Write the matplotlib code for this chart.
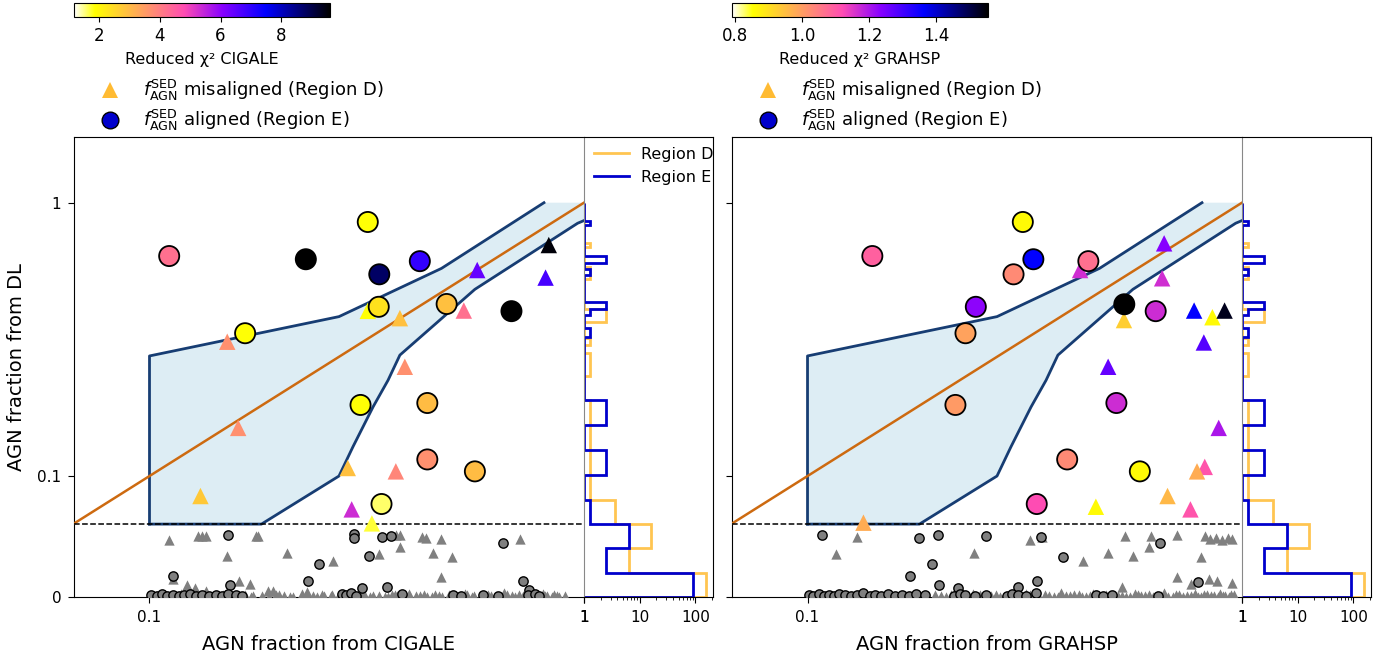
import numpy as np
import matplotlib
matplotlib.use("Agg")
import matplotlib.pyplot as plt
from matplotlib.colors import Normalize
from matplotlib.cm import ScalarMappable
from matplotlib.lines import Line2D
from matplotlib.ticker import NullLocator

# ---------------- CIGALE panel ----------------
# region E (aligned) -> circles
cig_e_x = [0.111, 0.229, 0.318, 0.338, 0.419, 0.337, 0.483, 0.681, 0.166, 0.306, 0.436, 0.436, 0.561, 0.342]
cig_e_y = [0.638, 0.621, 0.850, 0.547, 0.611, 0.416, 0.426, 0.401, 0.333, 0.182, 0.185, 0.115, 0.104, 0.079]
cig_e_chi2 = [4.2, 9.6, 1.84, 8.75, 6.95, 2.35, 2.89, 9.6, 1.84, 1.84, 2.95, 3.69, 2.95, 1.59]

# region D (misaligned) -> triangles
cig_d_x = [0.151, 0.318, 0.377, 0.529, 0.568, 0.830, 0.816, 0.387, 0.160, 0.131, 0.286, 0.369, 0.292, 0.325]
cig_d_y = [0.310, 0.402, 0.378, 0.403, 0.567, 0.700, 0.532, 0.251, 0.150, 0.0845, 0.107, 0.104, 0.0755, 0.0671]
cig_d_chi2 = [3.69, 1.84, 2.9, 4.2, 6.41, 9.5, 6.76, 3.69, 3.69, 2.77, 2.9, 3.86, 5.33, 1.7]

# sources below the DL threshold (grey)
cig_low_circ_x = [0.152, 0.295, 0.295, 0.342, 0.359, 0.650, 0.320, 0.245, 0.113, 0.232, 0.153, 0.309, 0.353, 0.725, 0.747,
                  0.101, 0.104, 0.107, 0.110, 0.113, 0.117, 0.120, 0.124, 0.128, 0.132, 0.137, 0.142, 0.147, 0.152,
                  0.158, 0.163, 0.277, 0.284, 0.291, 0.299, 0.381, 0.500, 0.522, 0.586, 0.634, 0.742, 0.772, 0.790]
cig_low_circ_y = [0.0568, 0.0574, 0.0537, 0.0552, 0.0561, 0.0492, 0.0376, 0.0303, 0.0194, 0.0151, 0.0109, 0.0085, 0.0097, 0.0146, 0.0067,
                  0.002, 0.001, 0.003, 0.001, 0.002, 0.001, 0.002, 0.003, 0.001, 0.002, 0.001, 0.002, 0.001, 0.003,
                  0.002, 0.001, 0.003, 0.002, 0.004, 0.001, 0.003, 0.002, 0.001, 0.002, 0.001, 0.002, 0.003, 0.001]
cig_low_tri_x = [0.111, 0.129, 0.132, 0.135, 0.176, 0.178, 0.370, 0.377, 0.423, 0.434, 0.470, 0.712, 0.378, 0.151, 0.207,
                 0.265, 0.338, 0.450, 0.496, 0.470, 0.113, 0.122, 0.127, 0.161, 0.170, 0.135, 0.187, 0.192, 0.230,
                 0.102, 0.107, 0.111, 0.118, 0.124, 0.131, 0.138, 0.143, 0.151, 0.158, 0.166, 0.171, 0.182, 0.195,
                 0.204, 0.211, 0.224, 0.238, 0.249, 0.261, 0.272, 0.288, 0.297, 0.312, 0.327, 0.349, 0.362, 0.371,
                 0.395, 0.411, 0.428, 0.447, 0.463, 0.489, 0.507, 0.531, 0.552, 0.578, 0.601, 0.626, 0.655, 0.683,
                 0.708, 0.742, 0.768, 0.803, 0.822, 0.851, 0.877, 0.905,
                 0.1045, 0.1095, 0.1155, 0.1205, 0.1265, 0.1335, 0.1405, 0.1475, 0.1545, 0.1625, 0.1735, 0.1885,
                 0.1985, 0.2145, 0.2305, 0.2425, 0.2525, 0.2635, 0.2755, 0.2835, 0.2935, 0.3075, 0.3215, 0.3375,
                 0.3535, 0.3665, 0.3835, 0.3985, 0.4185, 0.4345, 0.4535, 0.4725, 0.4945, 0.5125, 0.5375, 0.5595,
                 0.5845, 0.6095, 0.6375, 0.6665, 0.6955, 0.7235, 0.7545, 0.7845, 0.8135, 0.8425, 0.8685]
cig_low_tri_y = [0.0522, 0.0561, 0.0561, 0.0561, 0.0561, 0.0561, 0.0568, 0.0568, 0.0552, 0.0537, 0.0531, 0.0528, 0.0461, 0.0376, 0.0406,
                 0.0334, 0.0394, 0.0401, 0.037, 0.0182, 0.0164, 0.0112, 0.0082, 0.0148, 0.0121, 0.006, 0.006, 0.006, 0.005,
                 0.001, 0.002, 0.000, 0.003, 0.001, 0.002, 0.000, 0.001, 0.003, 0.001, 0.002, 0.000, 0.001, 0.002,
                 0.001, 0.000, 0.003, 0.001, 0.002, 0.001, 0.000, 0.002, 0.001, 0.003, 0.001, 0.000, 0.002, 0.001,
                 0.003, 0.001, 0.002, 0.000, 0.001, 0.002, 0.001, 0.003, 0.000, 0.001, 0.002, 0.001, 0.004, 0.001,
                 0.002, 0.000, 0.001, 0.003, 0.001, 0.002, 0.000, 0.001,
                 0.000, 0.001, 0.000, 0.002, 0.000, 0.001, 0.000, 0.002, 0.001, 0.000, 0.001, 0.000,
                 0.002, 0.000, 0.001, 0.000, 0.001, 0.002, 0.000, 0.001, 0.000, 0.002, 0.000, 0.001,
                 0.000, 0.002, 0.001, 0.000, 0.001, 0.000, 0.002, 0.000, 0.001, 0.000, 0.002, 0.001,
                 0.000, 0.001, 0.000, 0.002, 0.000, 0.001, 0.000, 0.002, 0.001, 0.000, 0.001]

# ---------------- GRAHSP panel ----------------
gra_e_x = [0.141, 0.313, 0.331, 0.298, 0.443, 0.244, 0.231, 0.536, 0.633, 0.219, 0.514, 0.396, 0.582, 0.337]
gra_e_y = [0.638, 0.850, 0.621, 0.547, 0.611, 0.416, 0.333, 0.425, 0.401, 0.182, 0.185, 0.115, 0.104, 0.079]
gra_e_chi2 = [1.09, 0.86, 1.363, 1.028, 1.066, 1.227, 0.993, 1.554, 1.168, 1.005, 1.168, 1.028, 0.86, 1.119]

gra_d_x = [0.424, 0.662, 0.655, 0.535, 0.776, 0.855, 0.912, 0.817, 0.492, 0.884, 0.821, 0.788, 0.674, 0.461, 0.761, 0.1345]
gra_d_y = [0.567, 0.710, 0.529, 0.372, 0.403, 0.381, 0.403, 0.308, 0.251, 0.150, 0.108, 0.104, 0.0845, 0.0772, 0.0755, 0.0675]
gra_d_chi2 = [1.165, 1.234, 1.165, 0.928, 1.363, 0.86, 1.531, 1.282, 1.266, 1.2, 1.108, 0.978, 0.959, 0.86, 1.108, 0.978]

gra_low_circ_x = [0.108, 0.181, 0.200, 0.257, 0.345, 0.647, 0.388, 0.193, 0.172, 0.201, 0.222, 0.338, 0.305, 0.793,
                  0.101, 0.103, 0.106, 0.109, 0.112, 0.115, 0.118, 0.122, 0.126, 0.130, 0.134, 0.139, 0.143, 0.148,
                  0.153, 0.159, 0.165, 0.171, 0.178, 0.186, 0.217, 0.224, 0.231, 0.243, 0.257, 0.288, 0.295, 0.305,
                  0.318, 0.336, 0.462, 0.478, 0.502, 0.640]
gra_low_circ_y = [0.0568, 0.0537, 0.0568, 0.0561, 0.0552, 0.0492, 0.037, 0.0303, 0.0194, 0.0109, 0.0082, 0.0148, 0.0097, 0.0142,
                  0.002, 0.001, 0.003, 0.001, 0.002, 0.001, 0.003, 0.002, 0.001, 0.002, 0.004, 0.001, 0.002, 0.001,
                  0.003, 0.001, 0.002, 0.001, 0.003, 0.002, 0.001, 0.003, 0.002, 0.001, 0.002, 0.001, 0.003, 0.002,
                  0.001, 0.004, 0.002, 0.001, 0.002, 0.001]
gra_low_tri_x = [0.130, 0.116, 0.242, 0.325, 0.346, 0.431, 0.492, 0.538, 0.560, 0.616, 0.611, 0.707, 0.804, 0.820,
                 0.845, 0.870, 0.900, 0.930, 0.950, 0.707, 0.762, 0.840, 0.877, 0.950, 0.530,
                 0.203, 0.214, 0.229, 0.241, 0.258, 0.271, 0.284, 0.302, 0.318, 0.331, 0.352, 0.369, 0.383, 0.402,
                 0.421, 0.438, 0.455, 0.479, 0.497, 0.518, 0.541, 0.566, 0.587, 0.612, 0.638, 0.661, 0.692, 0.718,
                 0.746, 0.779, 0.806, 0.833, 0.862, 0.889, 0.915, 0.942,
                 0.1525, 0.1685, 0.1835, 0.1965, 0.2085, 0.2205, 0.2355, 0.2495, 0.2645, 0.2775, 0.2905, 0.3105,
                 0.3245, 0.3405, 0.3595, 0.3765, 0.3925, 0.4115, 0.4285, 0.4465, 0.4685, 0.4875, 0.5085, 0.5295,
                 0.5535, 0.5765, 0.5995, 0.6255, 0.6495, 0.6755, 0.7035, 0.7305, 0.7625, 0.7925, 0.8195, 0.8495,
                 0.8795, 0.9065, 0.9325, 0.9605]
gra_low_tri_y = [0.0547, 0.0394, 0.0401, 0.0522, 0.0547, 0.0334, 0.0401, 0.0561, 0.0376, 0.0561, 0.0455, 0.0568, 0.037, 0.0561,
                 0.0531, 0.0537, 0.0525, 0.054, 0.0531, 0.0182, 0.0121, 0.0169, 0.0148, 0.0128, 0.0091,
                 0.001, 0.002, 0.000, 0.003, 0.001, 0.002, 0.000, 0.001, 0.003, 0.001, 0.002, 0.000, 0.004, 0.001,
                 0.002, 0.000, 0.003, 0.001, 0.002, 0.001, 0.000, 0.003, 0.001, 0.002, 0.001, 0.004, 0.000, 0.002,
                 0.001, 0.003, 0.000, 0.002, 0.001, 0.003, 0.001, 0.002,
                 0.000, 0.001, 0.000, 0.002, 0.000, 0.001, 0.000, 0.002, 0.001, 0.000, 0.001, 0.000,
                 0.002, 0.000, 0.001, 0.000, 0.001, 0.002, 0.000, 0.001, 0.000, 0.002, 0.000, 0.001,
                 0.000, 0.002, 0.001, 0.000, 0.001, 0.000, 0.002, 0.000, 0.001, 0.000, 0.002, 0.001,
                 0.000, 0.001, 0.000, 0.002]

# histogram of DL fractions (same DL values for both panels)
hist_d_edges = [0, 0.022, 0.045, 0.067, 0.082, 0.19, 0.232, 0.283, 0.302, 0.319, 0.367, 0.407, 0.525, 0.583, 0.687, 0.714, 1.0]
hist_d_counts = [157, 6.4, 16, 3.6, 1.3, 1, 1.3, 1, 1.3, 1, 2.47, 1, 1.3, 1, 1.3, 1]
hist_e_edges = [0, 0.022, 0.045, 0.067, 0.082, 0.101, 0.125, 0.154, 0.19, 0.323, 0.347, 0.388, 0.407, 0.432,
                0.544, 0.571, 0.600, 0.640, 0.829, 0.857, 1.0]
hist_e_counts = [92.5, 2.44, 6.5, 1.3, 1, 2.47, 1, 2.47, 1, 1.3, 1, 1.3, 2.47, 1, 1.3, 1, 2.47, 1, 1.3, 1]

# agreement band (upper and lower bounds)
band_up_x = [0.1, 0.1, 0.273, 0.47, 0.809]
band_up_y = [0.0667, 0.275, 0.383, 0.575, 1.0]
band_lo_x = [0.1, 0.181, 0.273, 0.294, 0.327, 0.354, 0.377, 0.561, 0.967, 1.0]
band_lo_y = [0.0667, 0.0667, 0.1, 0.128, 0.179, 0.224, 0.277, 0.482, 0.841, 0.86]

threshold = 0.0667
cmap = plt.get_cmap("gnuplot2_r")
col_d = "#ffbb33"
col_e = "#0000cc"

plt.rcParams["font.family"] = "DejaVu Sans"
fig = plt.figure(figsize=(13.95, 6.6), dpi=100)


def make_panel(x0, ex, ey, ec, dx, dy, dc, lcx, lcy, ltx, lty, vmin, vmax, xlabel, cb_label, first):
    ax = fig.add_axes([x0, 0.095, 0.3656, 0.697])
    hx = fig.add_axes([x0 + 0.3656, 0.095, 0.0922, 0.697], sharey=ax)
    norm = Normalize(vmin, vmax)

    ax.set_xscale("log")
    ax.set_yscale("symlog", linthresh=threshold, linscale=0.241)
    ax.set_xlim(0.067, 1)
    ax.set_ylim(0, 1.735)

    # band
    poly_x = band_up_x + [1.0] + band_lo_x[::-1]
    poly_y = band_up_y + [1.0] + band_lo_y[::-1]
    ax.fill(poly_x, poly_y, color="#ddedf4", zorder=1, lw=0)
    ax.plot(band_up_x, band_up_y, color="#173d73", lw=2, zorder=2)
    ax.plot(band_lo_x, band_lo_y, color="#173d73", lw=2, zorder=2)
    ax.plot([0.067, 1], [0.067, 1], color="#cd6a10", lw=1.8, zorder=3)
    ax.axhline(threshold, color="k", ls="--", lw=1.1, zorder=3)

    ax.scatter(ltx, lty, marker="^", s=55, color="#808080", lw=0, zorder=4)
    ax.scatter(lcx, lcy, marker="o", s=45, color="#808080", edgecolor="k", lw=1, zorder=4)
    ax.scatter(dx, dy, marker="^", s=140, c=dc, cmap=cmap, norm=norm, lw=0, zorder=5)
    ax.scatter(ex, ey, marker="o", s=210, c=ec, cmap=cmap, norm=norm, edgecolor="k", lw=1.3, zorder=6)

    ax.set_xticks([0.1, 1])
    ax.set_xticklabels(["0.1", "1"])
    ax.xaxis.set_minor_locator(NullLocator())
    ax.set_yticks([0, 0.1, 1])
    ax.set_yticklabels(["0", "0.1", "1"])
    ax.yaxis.set_minor_locator(NullLocator())
    ax.tick_params(labelsize=11, length=4.5, pad=4.5)
    ax.spines["right"].set_visible(False)
    ax.set_xlabel(xlabel, fontsize=14, labelpad=7)
    if first:
        ax.set_ylabel("AGN fraction from DL", fontsize=14, labelpad=8)
    else:
        ax.tick_params(axis="y", labelleft=False)

    # side histogram
    hx.set_xscale("log")
    hx.stairs(hist_d_counts, hist_d_edges, orientation="horizontal", baseline=1,
              color=col_d, lw=2, alpha=0.85, label="Region D")
    hx.stairs(hist_e_counts, hist_e_edges, orientation="horizontal", baseline=1,
              color=col_e, lw=2, label="Region E")
    hx.set_xlim(1, 204)
    hx.set_xticks([1, 10, 100])
    hx.set_xticklabels(["1", "10", "100"])
    hx.tick_params(axis="y", left=False, labelleft=False)
    hx.tick_params(axis="x", which="major", labelsize=11, length=4.5, pad=4.5)
    hx.spines["left"].set_color("#888888")
    if first:
        hx.legend(loc="upper left", frameon=False, fontsize=11.5, handlelength=2.2,
                  borderaxespad=0.2, handletextpad=0.8, bbox_to_anchor=(0.0, 1.0))

    # colour bar on top
    cax = fig.add_axes([x0, 0.9738, 0.1833, 0.0221])
    cb = fig.colorbar(ScalarMappable(norm=norm, cmap=cmap), cax=cax, orientation="horizontal")
    cb.ax.tick_params(labelsize=12)
    cb.set_label(cb_label, fontsize=11.5, labelpad=5)

    handles = [Line2D([], [], marker="^", ls="", color=col_d, markersize=12, mew=0),
               Line2D([], [], marker="o", ls="", color=col_e, markeredgecolor="k", markersize=12)]
    labels = [r"$f_{\mathrm{AGN}}^{\mathrm{SED}}$ misaligned (Region D)",
              r"$f_{\mathrm{AGN}}^{\mathrm{SED}}$ aligned (Region E)"]
    ax.legend(handles, labels, loc="lower left", bbox_to_anchor=(0.015, 0.985), frameon=False,
              fontsize=13, handletextpad=0.8, labelspacing=0.3, borderaxespad=0.2)


make_panel(0.053, cig_e_x, cig_e_y, cig_e_chi2, cig_d_x, cig_d_y, cig_d_chi2,
           cig_low_circ_x, cig_low_circ_y, cig_low_tri_x, cig_low_tri_y,
           1.165, 9.594, "AGN fraction from CIGALE", "Reduced χ² CIGALE", True)
make_panel(0.5247, gra_e_x, gra_e_y, gra_e_chi2, gra_d_x, gra_d_y, gra_d_chi2,
           gra_low_circ_x, gra_low_circ_y, gra_low_tri_x, gra_low_tri_y,
           0.791, 1.554, "AGN fraction from GRAHSP", "Reduced χ² GRAHSP", False)

fig.savefig("out.png", dpi=100)
